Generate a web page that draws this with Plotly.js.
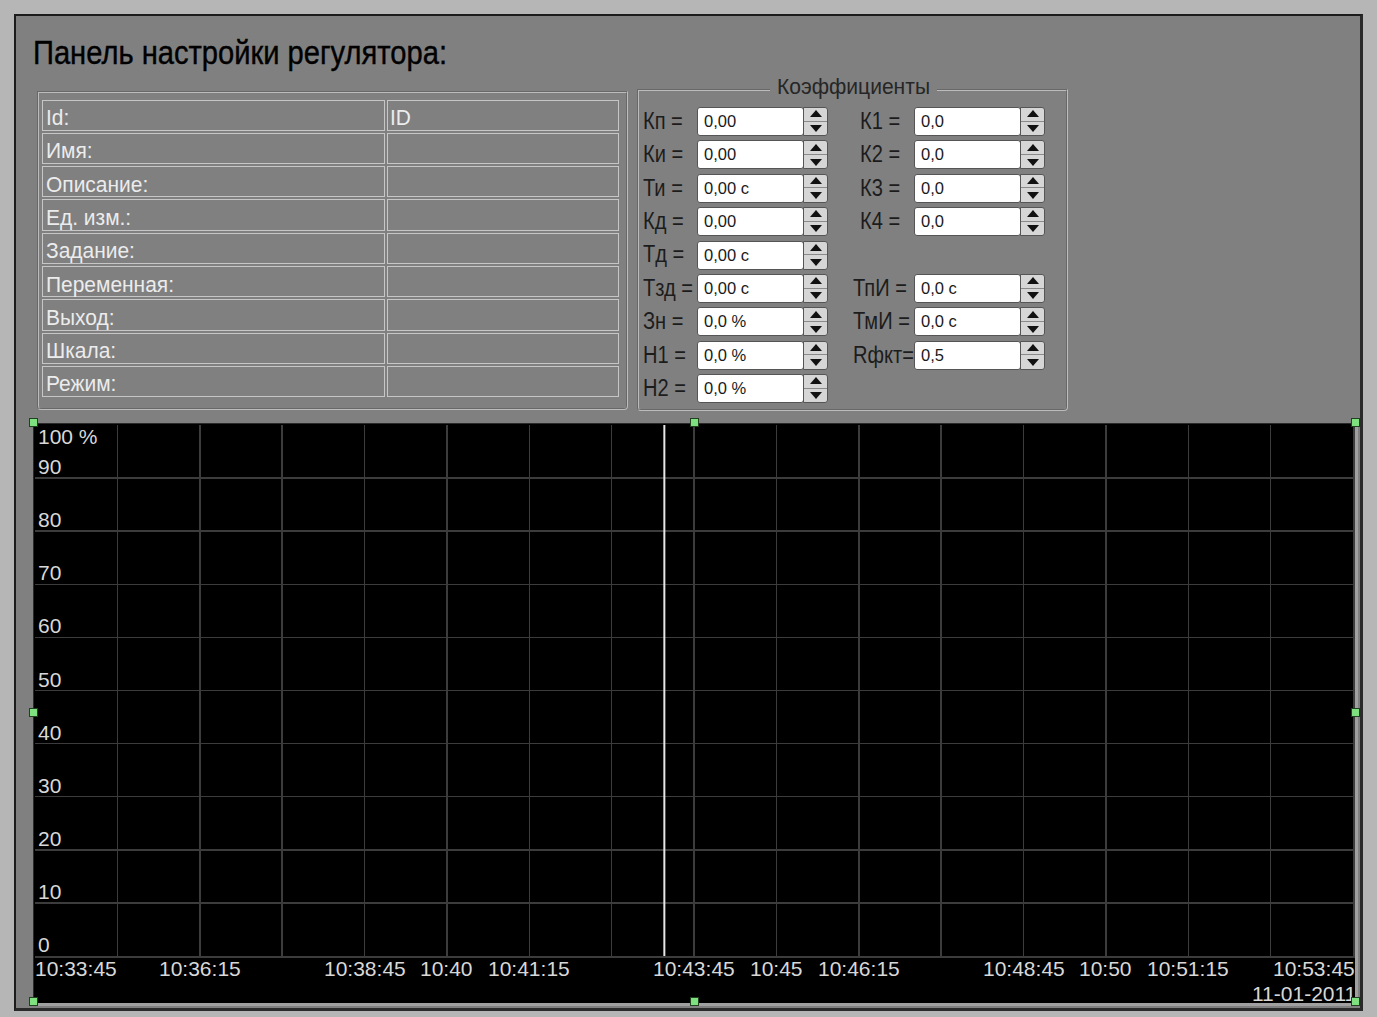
<!DOCTYPE html>
<html>
<head>
<meta charset="utf-8">
<script src="https://cdn.plot.ly/plotly-3.0.1.min.js"></script>
<style>
  html, body { margin:0; padding:0; }
  body { width:1377px; height:1017px; background:#b6b6b6; position:relative; overflow:hidden;
         font-family:"Liberation Sans", Arial, sans-serif; }
  .abs { position:absolute; }
  .t { position:absolute; white-space:nowrap; transform-origin:0 0; }
  #panel { left:14px; top:14px; width:1344px; height:992px; background:#808080;
           border:2px solid #1c1c1c; border-right:3px solid #2a2a2a; border-bottom:3px solid #2a2a2a; }
  .group { border:2px groove #bcbcbc; border-radius:0 0 4px 4px; }
  .cell { position:absolute; border:1px solid #c6c6c6; box-sizing:border-box; }
  .cbox { position:absolute; background:#fff; border:1px solid #555; border-radius:3px; box-sizing:border-box; }
  .spin { position:absolute; background:#d6d6d6; border:1px solid #555; border-radius:0 3px 3px 0; box-sizing:border-box; }
  .spin .half { position:absolute; left:0; width:100%; height:50%; box-sizing:border-box; }
  .spin .half.top { top:0; border-bottom:1px solid #8a8a8a; }
  .spin .half.bot { bottom:0; }
  .tri-up { position:absolute; left:50%; top:50%; margin-left:-6px; margin-top:-4px; width:0; height:0;
            border-left:6px solid transparent; border-right:6px solid transparent; border-bottom:7px solid #111; }
  .tri-dn { position:absolute; left:50%; top:50%; margin-left:-6px; margin-top:-3px; width:0; height:0;
            border-left:6px solid transparent; border-right:6px solid transparent; border-top:7px solid #111; }
  #chartWrap { left:33px; top:423px; width:1321px; height:579px; border-top:1px solid #2a2a2a; border-left:1px solid #2a2a2a;
               border-right:3px solid #a0a0a0; border-bottom:3px solid #a0a0a0; background:#000; }
  #chart { left:1px; top:1px; width:1320px; height:578px; }
  .handle { width:7px; height:7px; background:#7fe07f; border:1px solid #204020; }
</style>
</head>
<body>
<div id="panel" class="abs"></div>
<div class="abs group" style="left:37px;top:91px;width:587px;height:315px;"></div>
<div class="abs group" style="left:637px;top:89px;width:427px;height:318px;"></div>
<div id="ui"></div>
<div id="chartWrap" class="abs"><div id="chart" class="abs"></div></div>
<div id="handles"></div>
<script>
// ---------- data ----------
const panelTitle = "Панель настройки регулятора:";
const infoLabels = ["Id:", "Имя:", "Описание:", "Ед. изм.:", "Задание:", "Переменная:", "Выход:", "Шкала:", "Режим:"];
const infoValues = ["ID", "", "", "", "", "", "", "", ""];

const coefTitle = "Коэффициенты";
const coefLeftLabels = ["Кп =", "Ки =", "Ти =", "Кд =", "Тд =", "Тзд =", "Зн =", "Н1 =", "Н2 ="];
const coefLeftValues = ["0,00", "0,00", "0,00 с", "0,00", "0,00 с", "0,00 с", "0,0 %", "0,0 %", "0,0 %"];
const coefRightLabels = ["К1 =", "К2 =", "К3 =", "К4 =", null, "ТпИ =", "ТмИ =", "Rфкт=", null];
const coefRightValues = ["0,0", "0,0", "0,0", "0,0", null, "0,0 с", "0,0 с", "0,5", null];

const chartDate = "2011-01-11";
const dateLabel = "11-01-2011";
const gridTimes = ["10:33:45", "10:35:00", "10:36:15", "10:37:30", "10:38:45", "10:40:00", "10:41:15", "10:42:30",
                   "10:43:45", "10:45:00", "10:46:15", "10:47:30", "10:48:45", "10:50:00", "10:51:15", "10:52:30", "10:53:45"];
const labelTimes = ["10:33:45", "10:36:15", "10:38:45", "10:40:00", "10:41:15", "10:43:45", "10:45:00", "10:46:15",
                    "10:48:45", "10:50:00", "10:51:15", "10:53:45"];
const labelTexts = ["10:33:45", "10:36:15", "10:38:45", "10:40", "10:41:15", "10:43:45", "10:45", "10:46:15",
                    "10:48:45", "10:50", "10:51:15", "10:53:45"];
const yTickVals = [0, 10, 20, 30, 40, 50, 60, 70, 80, 90, 100];
const yTickTexts = ["0", "10", "20", "30", "40", "50", "60", "70", "80", "90", "100 %"];
const cursorTime = "10:43:18";
const cursorRange = [0, 100];

// ---------- text helpers (narrow font emulation) ----------
const FAM = '"Liberation Sans", Arial, sans-serif';
const cv = document.createElement("canvas").getContext("2d");
function scaleFor(sample, size, target) { cv.font = size + "px " + FAM; return target / cv.measureText(sample).width; }
const S = {
  title: { size: 33, color: "#000", k: scaleFor(panelTitle, 33, 414) },
  info:  { size: 22, color: "#ececec", k: scaleFor("Переменная:", 22, 128) },
  lab:   { size: 23, color: "#1c1c1c", k: scaleFor("Тзд =", 23, 50) },
  val:   { size: 17, color: "#1a1a1a", k: scaleFor("0,00 с", 17, 45) },
  leg:   { size: 22, color: "#262626", k: scaleFor(coefTitle, 22, 153) }
};
const ui = document.getElementById("ui");
function text(str, style, left, baseline) {
  const d = document.createElement("div");
  d.className = "t"; d.textContent = str;
  d.style.fontSize = style.size + "px"; d.style.color = style.color;
  d.style.lineHeight = "1"; d.style.transform = "scaleX(" + style.k.toFixed(4) + ")";
  d.style.left = left + "px";
  d.style.top = (baseline - style.size * 0.86) + "px";
  ui.appendChild(d);
  return d;
}
function box(cls, left, top, w, h) {
  const d = document.createElement("div");
  d.className = cls; d.style.left = left + "px"; d.style.top = top + "px";
  d.style.width = w + "px"; d.style.height = h + "px";
  ui.appendChild(d); return d;
}

// title
const titleEl = text(panelTitle, S.title, 33, 64);
titleEl.style.webkitTextStroke = "0.4px #000";

// info table
infoLabels.forEach((lab, i) => {
  const top = 99.5 + i * 33.3;
  box("cell", 42, top, 343, 31.3);
  box("cell", 387, top, 232, 31.3);
  text(lab, S.info, 46, top + 26.5);
  if (infoValues[i]) text(infoValues[i], S.info, 390, top + 26.5);
});

// coefficients legend (cuts group border)
(function () {
  const w = 153 + 14;
  const bg = box("abs", 853 - w / 2, 78, w, 22); bg.style.background = "#808080";
  text(coefTitle, S.leg, 853 - 153 / 2, 95);
})();

function field(labelX, boxX, top, label, value) {
  text(label, S.lab, labelX, top + 22.5);
  box("cbox", boxX, top, 107, 29);
  text(value, S.val, boxX + 7, top + 20.7);
  const s = box("spin", boxX + 106, top, 25, 29);
  s.innerHTML = '<div class="half top"><div class="tri-up"></div></div><div class="half bot"><div class="tri-dn"></div></div>';
}
coefLeftLabels.forEach((lab, i) => field(643, 697, 107 + i * 33.4, lab, coefLeftValues[i]));
coefRightLabels.forEach((lab, i) => {
  if (lab === null) return;
  const lx = lab.startsWith("К") ? 860 : 853;
  field(lx, 914, 107 + i * 33.4, lab, coefRightValues[i]);
});

// selection handles around the chart
const hWrap = document.getElementById("handles");
[[29, 418], [690, 418], [1351, 418], [29, 708], [1351, 708], [29, 997], [690, 997], [1351, 997]].forEach(p => {
  const h = document.createElement("div");
  h.className = "abs handle"; h.style.left = p[0] + "px"; h.style.top = p[1] + "px";
  hWrap.appendChild(h);
});

// ---------- chart ----------
const LBL = { family: FAM, size: 21, color: "#d8d8d8" };
const full = t => chartDate + " " + t;
const annotations = [];
labelTimes.forEach((t, i) => {
  const first = i === 0, last = i === labelTimes.length - 1;
  annotations.push({
    x: full(t), xref: "x", y: 0, yref: "paper", yanchor: "top", yshift: 1,
    xanchor: first ? "left" : (last ? "right" : "center"), xshift: first ? -2 : (last ? 4 : 0),
    text: labelTexts[i], showarrow: false, font: LBL
  });
});
yTickVals.forEach((v, i) => {
  annotations.push({
    x: 0, xref: "paper", y: v, yref: "y", xanchor: "left", xshift: 1,
    yanchor: v === 100 ? "top" : "bottom", yshift: v === 100 ? 2 : -2,
    text: yTickTexts[i], showarrow: false, font: LBL
  });
});
annotations.push({
  x: 1, xref: "paper", y: 0, yref: "paper", yanchor: "top", yshift: -24, xanchor: "right", xshift: 5,
  text: dateLabel, showarrow: false, font: LBL
});

const traces = [{
  type: "scatter", mode: "lines",
  x: [full(cursorTime), full(cursorTime)], y: cursorRange,
  line: { color: "#e6e6e6", width: 2 }, hoverinfo: "skip", showlegend: false
}];

const layout = {
  width: 1320, height: 578,
  margin: { l: 0, r: 2, t: 0, b: 47, pad: 0 },
  paper_bgcolor: "#000", plot_bgcolor: "#000",
  showlegend: false,
  xaxis: {
    type: "date", range: [full(gridTimes[0]), full(gridTimes[gridTimes.length - 1])],
    tickmode: "array", tickvals: gridTimes.map(full), showticklabels: false,
    showgrid: true, gridcolor: "#3c3c3c", gridwidth: 1.5, zeroline: false,
    showline: true, linecolor: "#3c3c3c", linewidth: 1.5, mirror: true, ticks: ""
  },
  yaxis: {
    range: [0, 100], tickmode: "array", tickvals: yTickVals, showticklabels: false,
    showgrid: true, gridcolor: "#3c3c3c", gridwidth: 1.5, zeroline: false,
    showline: true, linecolor: "#3c3c3c", linewidth: 1.5, mirror: true, ticks: ""
  },
  annotations: annotations
};
Plotly.newPlot("chart", traces, layout, { staticPlot: true, displayModeBar: false });
</script>
</body>
</html>
